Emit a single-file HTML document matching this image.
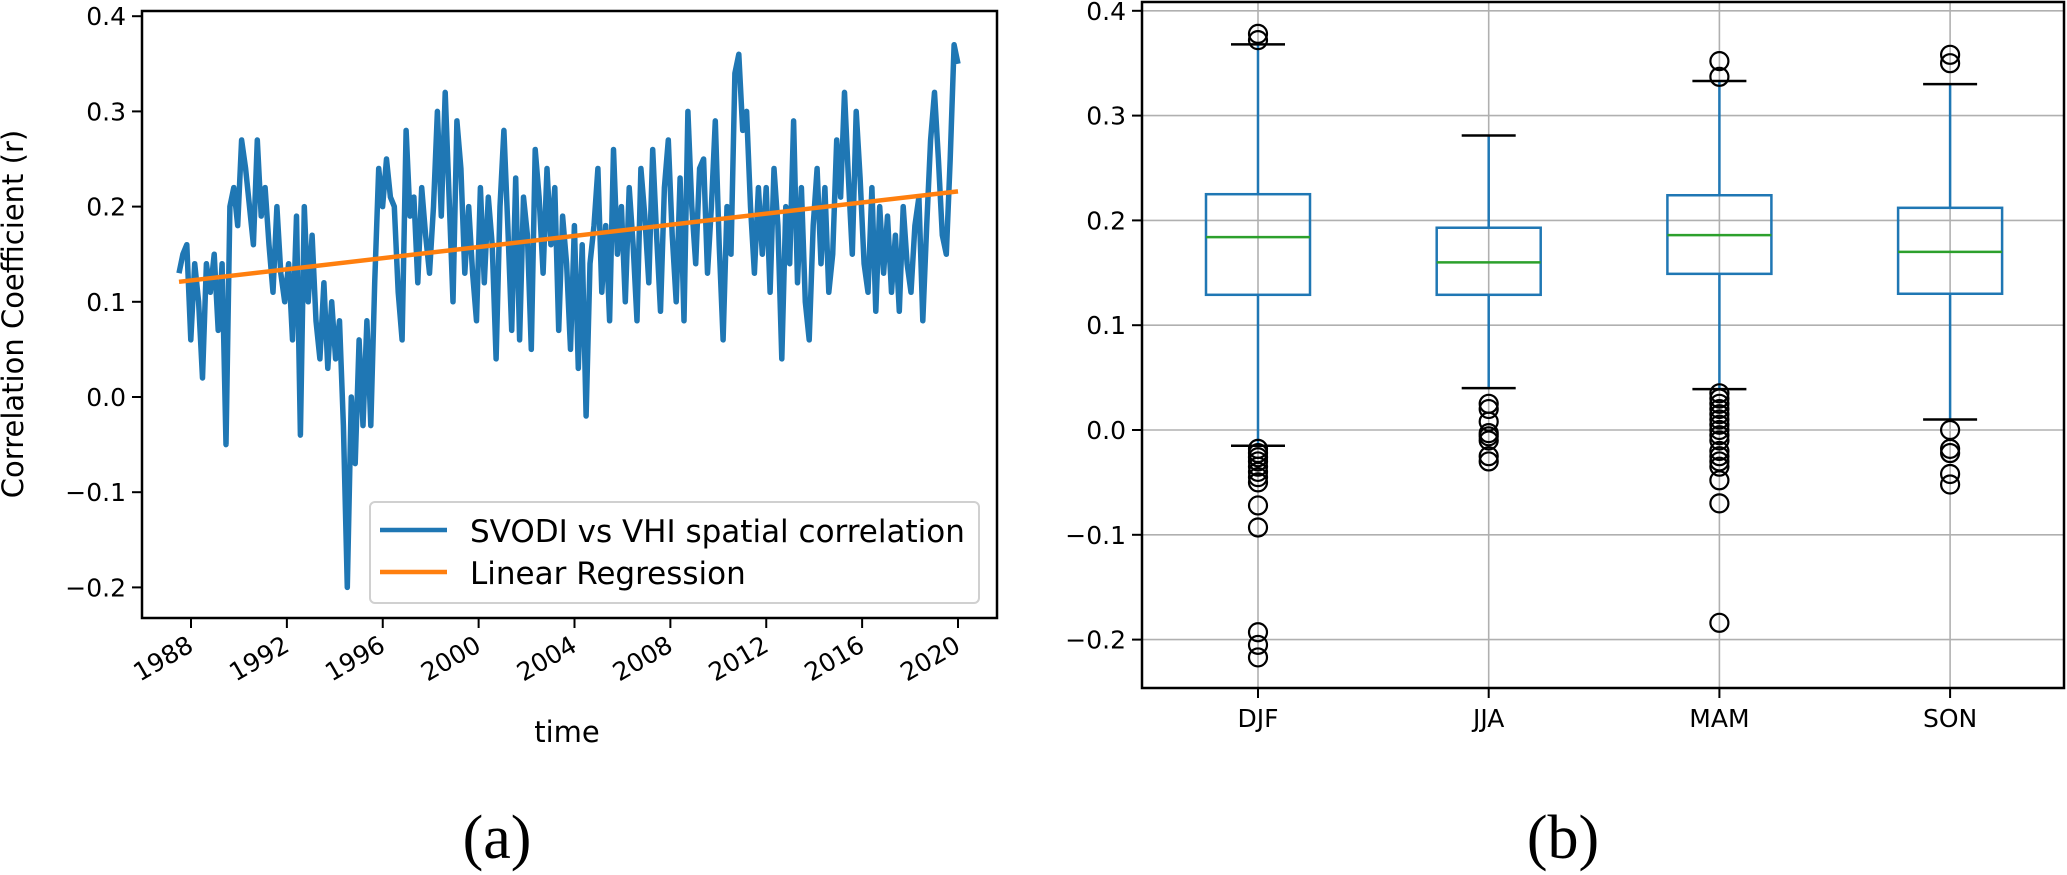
<!DOCTYPE html>
<html><head><meta charset="utf-8"><style>
html,body{margin:0;padding:0;background:#fff;}
svg{display:block;font-family:"DejaVu Sans","Liberation Sans",sans-serif;}
</style></head><body>
<svg id="fig" width="2067" height="875" viewBox="0 0 2067 875" xmlns="http://www.w3.org/2000/svg">
<g id="left"></g>
<g id="right"></g>
<text x="497" y="858" font-family="Liberation Serif, serif" font-size="62" text-anchor="middle">(a)</text>
<text x="1563" y="858" font-family="Liberation Serif, serif" font-size="62" text-anchor="middle">(b)</text>
</svg>
<script>
// ---------- Data: panel (a) ----------
const startYear = 1987.5;
const endYear = 2020.0;
const corrValues = [
0.13,0.15,0.16,0.06,0.14,
0.10,0.02,0.14,0.11,0.15,0.07,
0.14,-0.05,0.20,0.22,0.18,0.27,
0.24,0.20,0.16,0.27,0.19,0.22,
0.16,0.11,0.20,0.13,0.10,0.14,
0.06,0.19,-0.04,0.20,0.10,0.17,
0.08,0.04,0.12,0.03,0.10,0.04,
0.08,-0.03,-0.20,0.00,-0.07,0.06,
-0.03,0.08,-0.03,0.12,0.24,0.20,
0.25,0.21,0.20,0.11,0.06,0.28,
0.19,0.21,0.12,0.22,0.17,0.13,
0.20,0.30,0.19,0.32,0.21,0.10,
0.29,0.24,0.13,0.20,0.13,0.08,
0.22,0.12,0.21,0.16,0.04,0.20,
0.28,0.18,0.07,0.23,0.06,0.21,
0.17,0.05,0.26,0.21,0.13,0.24,
0.16,0.22,0.07,0.19,0.14,0.05,
0.18,0.03,0.16,-0.02,0.14,0.18,
0.24,0.11,0.18,0.08,0.26,0.15,
0.20,0.10,0.22,0.16,0.08,0.24,
0.19,0.12,0.26,0.17,0.09,0.22,
0.27,0.17,0.10,0.23,0.08,0.30,
0.20,0.14,0.24,0.25,0.13,0.20,
0.29,0.16,0.06,0.20,0.15,0.34,
0.36,0.28,0.30,0.20,0.13,0.22,
0.15,0.22,0.11,0.24,0.18,0.04,
0.20,0.14,0.29,0.12,0.22,0.10,
0.06,0.18,0.24,0.14,0.22,0.11,
0.15,0.27,0.21,0.32,0.23,0.15,
0.30,0.23,0.14,0.11,0.22,0.09,
0.20,0.13,0.19,0.11,0.17,0.09,
0.20,0.14,0.11,0.18,0.21,0.08,
0.18,0.27,0.32,0.25,0.17,0.15,
0.25,0.37,0.35];
const regStart = [1987.5, 0.121];
const regEnd = [2020.0, 0.216];
const yearTicks = [1988,1992,1996,2000,2004,2008,2012,2016,2020];
const leftYTicks = [0.4,0.3,0.2,0.1,0.0,-0.1,-0.2];

// ---------- Data: panel (b) ----------
const seasons = ["DJF","JJA","MAM","SON"];
const q1 = [0.129,0.129,0.149,0.130];
const medians = [0.184,0.160,0.186,0.170];
const q3 = [0.225,0.193,0.224,0.212];
const whiskerLow = [-0.015,0.040,0.039,0.010];
const whiskerHigh = [0.368,0.281,0.333,0.330];
const fliersDJF = [0.372,0.378,-0.018,-0.022,-0.026,-0.030,-0.035,-0.040,-0.045,-0.050,-0.072,-0.093,-0.193,-0.205,-0.217];
const fliersJJA = [0.025,0.020,0.008,-0.003,-0.006,-0.010,-0.025,-0.030];
const fliersMAM = [0.337,0.352,0.035,0.030,0.025,0.020,0.015,0.010,0.005,0.000,-0.005,-0.010,-0.020,-0.025,-0.030,-0.035,-0.048,-0.070,-0.184];
const fliersSON = [0.350,0.358,0.000,-0.018,-0.022,-0.042,-0.052];
const rightYTicks = [0.4,0.3,0.2,0.1,0.0,-0.1,-0.2];

const NS = "http://www.w3.org/2000/svg";
function mk(parent, tag, attrs, text){
  const e = document.createElementNS(NS, tag);
  for (const k in attrs) e.setAttribute(k, attrs[k]);
  if (text !== undefined) e.textContent = text;
  parent.appendChild(e);
  return e;
}

// ---------- Panel (a) ----------
const L = document.getElementById("left");
const lx0 = 142, lx1 = 997, ly0 = 11, ly1 = 618;
const xYear = y => 191 + (y - 1988) * (958 - 191) / 32;
const yL = v => 397 - v * 952;
const stepYear = (endYear - startYear) / (corrValues.length - 1);

leftYTicks.forEach(v => {
  const t = mk(L, "line", {x1: lx0 - 10, x2: lx0, y1: yL(v), y2: yL(v), stroke: "#000", "stroke-width": 2});
  
  
  const lab = mk(L, "text", {x: lx0 - 16, y: yL(v) + 9, "font-size": 25, "text-anchor": "end"}, (v < 0 ? "\u2212" + Math.abs(v).toFixed(1) : v.toFixed(1)));
  
  
});
yearTicks.forEach(yr => {
  const x = xYear(yr);
  const t = mk(L, "line", {x1: x, x2: x, y1: ly1, y2: ly1 + 10, stroke: "#000", "stroke-width": 2});
  
  
  const lab = mk(L, "text", {x: x + 4, y: ly1 + 32, "font-size": 25, "text-anchor": "end", transform: `rotate(-30 ${x + 4} ${ly1 + 32})`}, String(yr));
  
  
});
let d = "";
corrValues.forEach((v, i) => {
  const yr = startYear + i * stepYear;
  d += (i ? "L" : "M") + xYear(yr).toFixed(1) + " " + yL(v).toFixed(1);
});
const series = mk(L, "path", {d, fill: "none", stroke: "#1f77b4", "stroke-width": 5.5, "stroke-linejoin": "round"});


const reg = mk(L, "line", {x1: xYear(regStart[0]), y1: yL(regStart[1]), x2: xYear(regEnd[0]), y2: yL(regEnd[1]), stroke: "#ff7f0e", "stroke-width": 4.5});


const lf = mk(L, "rect", {x: lx0, y: ly0, width: lx1 - lx0, height: ly1 - ly0, fill: "none", stroke: "#000", "stroke-width": 2.5});


const lg = mk(L, "g", {});


mk(lg, "rect", {x: 370, y: 502, width: 609, height: 101, rx: 5, fill: "#fff", "fill-opacity": 0.8, stroke: "#d0d0d0", "stroke-width": 2});
mk(lg, "line", {x1: 380, x2: 447, y1: 530, y2: 530, stroke: "#1f77b4", "stroke-width": 4.5});
const le1 = mk(lg, "text", {x: 470, y: 542, "font-size": 31}, "SVODI vs VHI spatial correlation");


mk(lg, "line", {x1: 380, x2: 447, y1: 572, y2: 572, stroke: "#ff7f0e", "stroke-width": 4.5});
const le2 = mk(lg, "text", {x: 470, y: 584, "font-size": 31}, "Linear Regression");


const xt = mk(L, "text", {x: 567, y: 742, "font-size": 29, "text-anchor": "middle"}, "time");


const yt = mk(L, "text", {x: 0, y: 0, "font-size": 29, "text-anchor": "middle", transform: "translate(23 314) rotate(-90)"}, "Correlation Coefficient (r)");



// ---------- Panel (b) ----------
const R = document.getElementById("right");
const rx0 = 1142, rx1 = 2064, ry0 = 2, ry1 = 688;
const yR = v => 430 - v * 1048;
const xCat = i => 1258 + i * 230.7;
rightYTicks.forEach(v => {
  const g = mk(R, "line", {x1: rx0, x2: rx1, y1: yR(v), y2: yR(v), stroke: "#b0b0b0", "stroke-width": 1.6});
  
  
  const t = mk(R, "line", {x1: rx0 - 10, x2: rx0, y1: yR(v), y2: yR(v), stroke: "#000", "stroke-width": 2});
  
  
  const lab = mk(R, "text", {x: rx0 - 16, y: yR(v) + 9, "font-size": 25, "text-anchor": "end"}, (v < 0 ? "\u2212" + Math.abs(v).toFixed(1) : v.toFixed(1)));
  
  
});
seasons.forEach((s, i) => {
  const x = xCat(i);
  const g = mk(R, "line", {x1: x, x2: x, y1: ry0, y2: ry1, stroke: "#b0b0b0", "stroke-width": 1.6});
  
  
  const t = mk(R, "line", {x1: x, x2: x, y1: ry1, y2: ry1 + 10, stroke: "#000", "stroke-width": 2});
  
  
  const lab = mk(R, "text", {x: x, y: ry1 + 39, "font-size": 25, "text-anchor": "middle"}, s);
  
  
});
const allFliers = [fliersDJF, fliersJJA, fliersMAM, fliersSON];
seasons.forEach((s, i) => {
  const x = xCat(i);
  const grp = mk(R, "g", {});
  
  
  mk(grp, "line", {x1: x, x2: x, y1: yR(q3[i]), y2: yR(whiskerHigh[i]), stroke: "#1f77b4", "stroke-width": 2.5});
  mk(grp, "line", {x1: x, x2: x, y1: yR(q1[i]), y2: yR(whiskerLow[i]), stroke: "#1f77b4", "stroke-width": 2.5});
  mk(grp, "line", {x1: x - 27, x2: x + 27, y1: yR(whiskerHigh[i]), y2: yR(whiskerHigh[i]), stroke: "#000", "stroke-width": 2.5});
  mk(grp, "line", {x1: x - 27, x2: x + 27, y1: yR(whiskerLow[i]), y2: yR(whiskerLow[i]), stroke: "#000", "stroke-width": 2.5});
  mk(grp, "rect", {x: x - 52, y: yR(q3[i]), width: 104, height: yR(q1[i]) - yR(q3[i]), fill: "none", stroke: "#1f77b4", "stroke-width": 2.5});
  const m = mk(grp, "line", {x1: x - 52, x2: x + 52, y1: yR(medians[i]), y2: yR(medians[i]), stroke: "#2ca02c", "stroke-width": 2.5});
  
  
  allFliers[i].forEach(v => {
    const c = mk(grp, "ellipse", {cx: x, cy: yR(v), rx: 9, ry: 9, fill: "none", stroke: "#000", "stroke-width": 2.2});
    
    
  });
});
const rf = mk(R, "rect", {x: rx0, y: ry0, width: rx1 - rx0, height: ry1 - ry0, fill: "none", stroke: "#000", "stroke-width": 2.5});


</script>
</body></html>
